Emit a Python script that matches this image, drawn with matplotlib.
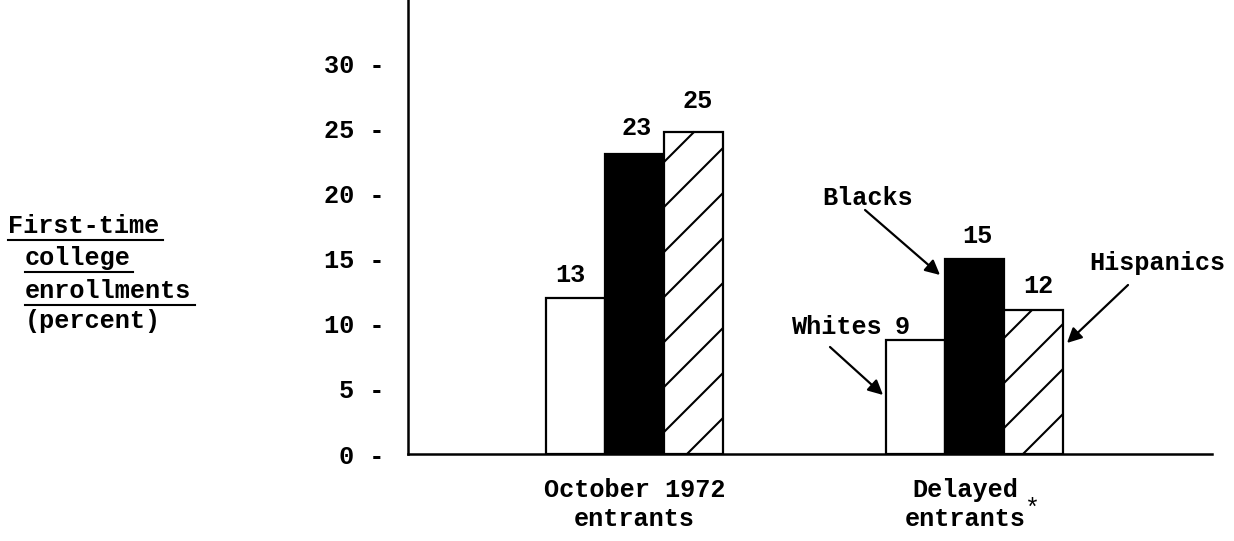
import matplotlib
matplotlib.use("Agg")
import matplotlib.pyplot as plt
from matplotlib.lines import Line2D
from matplotlib.transforms import IdentityTransform, ScaledTranslation
import numpy as np

plt.rcParams['font.family'] = ['Liberation Mono', 'DejaVu Sans Mono']

# ---- data ----
groups = ["October 1972\nentrants", "Delayed\nentrants"]
series = ["Whites", "Blacks", "Hispanics"]
# bar heights as drawn in the picture
whites_h = [12.0, 8.8]
blacks_h = [23.1, 15.0]
hispanics_h = [24.8, 11.1]
# printed value labels
whites_lbl = [13, 9]
blacks_lbl = [23, 15]
hispanics_lbl = [25, 12]
yticks = [0, 5, 10, 15, 20, 25, 30]
ytick_labels = ["0 -", "5 -", "10 -", "15 -", "20 -", "25 -", "30 -"]

W, H = 1234, 541
FS = 18.2
FW = "bold"
fig = plt.figure(figsize=(W / 100, H / 100), dpi=100)
ax = fig.add_axes([408 / W, 87 / H, 804 / W, 454 / H])

x = np.arange(len(groups))
bw = 0.1735
b_w = ax.bar(x - bw, whites_h, bw, color="white", edgecolor="black", linewidth=1.6)
b_b = ax.bar(x, blacks_h, bw, color="black", edgecolor="black", linewidth=1.6)
b_h = ax.bar(x + bw, hispanics_h, bw, color="white", edgecolor="black", linewidth=1.6)

ax.set_xlim(-0.6662, 1.6985)
ax.set_ylim(0, 34.92)

for s in ("top", "right"):
    ax.spines[s].set_visible(False)
ax.spines["left"].set_linewidth(1.8)
ax.spines["bottom"].set_linewidth(1.8)

ax.set_yticks(yticks)
ax.set_yticklabels(ytick_labels, fontsize=FS, fontweight=FW)
ax.tick_params(axis="y", length=0, pad=17)
ax.set_xticks(x)
ax.set_xticklabels(groups, fontsize=FS, fontweight=FW, linespacing=1.26)
ax.tick_params(axis="x", length=0, pad=17)
xl = ax.get_xticklabels()
xl[1].set_transform(xl[1].get_transform() + ScaledTranslation(-9 / 100, 0, fig.dpi_scale_trans))

# value labels (pixel offsets from bar top)
lbl_off = {
    (0, 0): (-5, 16), (0, 1): (2, 19), (0, 2): (4, 24),
    (1, 0): (-13, 6), (1, 1): (3, 16), (1, 2): (5, 17),
}
for si, (bars, lbls) in enumerate([(b_w, whites_lbl), (b_b, blacks_lbl), (b_h, hispanics_lbl)]):
    for gi, (bar, lb) in enumerate(zip(bars, lbls)):
        dx, dy = lbl_off[(gi, si)]
        ax.annotate(str(lb), xy=(bar.get_x() + bar.get_width() / 2, bar.get_height()),
                    xytext=(dx, dy), textcoords="offset pixels",
                    ha="center", va="baseline", fontsize=FS, fontweight=FW)

# custom wide diagonal hatching on Hispanics bars (clipped analytically to the bar)
spacing = 45
offs = [23, 19]
for bar, off in zip(b_h, offs):
    bb = bar.get_window_extent()
    x0, y0, x1, y1 = bb.x0, bb.y0, bb.x1, bb.y1
    hgt = y1 - y0
    c = x0 + off - spacing * np.ceil(hgt / spacing + 1)
    while c < x1:
        t0 = max(0.0, x0 - c)
        t1 = min(hgt, x1 - c)
        if t1 > t0:
            ln = Line2D([c + t0, c + t1], [y0 + t0, y0 + t1], transform=IdentityTransform(),
                        color="black", linewidth=1.5, solid_capstyle="butt")
            ax.add_artist(ln)
        c += spacing

# group annotations with arrows
arrow = dict(arrowstyle="-|>", color="black", lw=1.6, mutation_scale=22,
             shrinkA=0, shrinkB=0)
ax.annotate("", xy=(0.8985, 13.77), xytext=(0.678, 18.77), arrowprops=arrow)
ax.annotate("", xy=(1.272, 8.54), xytext=(1.4515, 13.0), arrowprops=arrow)
ax.annotate("", xy=(0.7309, 4.54), xytext=(0.575, 8.23), arrowprops=arrow)
ax.text(0.6868, 19.69, "Blacks", ha="center", va="center", fontsize=FS, fontweight=FW)
ax.text(1.538, 14.69, "Hispanics", ha="center", va="center", fontsize=FS, fontweight=FW)
ax.text(0.597, 9.77, "Whites", ha="center", va="center", fontsize=FS, fontweight=FW)

# asterisk after "Delayed"
fig.text(1032 / W, 1 - 509 / H, "*", fontsize=18, ha="center", va="center")

# y-axis title, typewriter style with underlines
ylines = [("First-time", 8, 233, 163, 240), ("college", 25, 265, 133, 272),
          ("enrollments", 25, 298, 195, 305), ("(percent)", 25, 328, None, None)]
for txt, lx, base, ux, uy in ylines:
    fig.text(lx / W, 1 - base / H, txt, fontsize=FS, fontweight=FW, ha="left", va="baseline")
    if ux is not None:
        fig.add_artist(Line2D([lx / W, ux / W], [1 - uy / H, 1 - uy / H],
                              transform=fig.transFigure, color="black", linewidth=1.5))

fig.savefig("out.png", dpi=100)
